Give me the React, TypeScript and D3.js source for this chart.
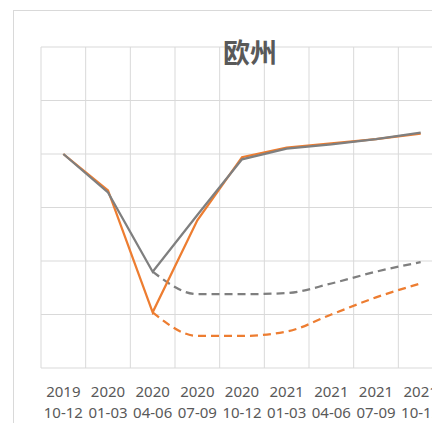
import React, { useRef, useEffect } from 'react';
import * as d3 from 'd3';

// quarters on the x axis (year on the first line, months on the second)
const years = ['2019', '2020', '2020', '2020', '2020', '2021', '2021', '2021', '2021'];
const quarters = ['10-12', '01-03', '04-06', '07-09', '10-12', '01-03', '04-06', '07-09', '10-12'];

// index, 2019 Q4 = 100
const orangeActual = [100, 96.6, 85.2, 93.8, 99.7, 100.6, 101.0, 101.4, 101.9];
const grayActual = [100, 96.4, 89.0, 94.3, 99.5, 100.5, 100.9, 101.4, 102.0];
const orangeForecast = [null, null, 85.2, 83.0, 83.0, 83.4, 85.0, 86.6, 87.9];
const grayForecast = [null, null, 89.0, 86.9, 86.9, 87.0, 87.9, 89.0, 89.9];

const yTicks = [80, 85, 90, 95, 100, 105, 110];

export default function App() {
    const ref = useRef<SVGSVGElement>(null);

    useEffect(() => {
        const svg = d3.select(ref.current);
        svg.selectAll('*').remove();

        const left = 41, right = 443, top = 47, bottom = 368;

        const idx = quarters.map((_, i) => i);
        const x = d3.scalePoint<number>().domain(idx).range([left, right]).padding(0.5);
        const step = x.step();
        const y = d3.scaleLinear().domain([80, 110]).range([bottom, top]);

        // chart frame
        svg.append('rect')
            .attr('x', 13.5).attr('y', 10.5)
            .attr('width', 500).attr('height', 500)
            .attr('fill', 'white')
            .attr('stroke', '#d9d9d9');

        // grid
        const grid = svg.append('g').attr('stroke', '#d9d9d9').attr('stroke-width', 1);
        yTicks.forEach((t) => {
            grid.append('line')
                .attr('x1', left).attr('x2', right)
                .attr('y1', y(t)).attr('y2', y(t));
        });
        for (let i = 0; i <= quarters.length; i++) {
            const gx = left + i * step;
            grid.append('line')
                .attr('x1', gx).attr('x2', gx)
                .attr('y1', top).attr('y2', bottom);
        }

        // title
        svg.append('text')
            .attr('x', 250).attr('y', 63)
            .attr('text-anchor', 'middle')
            .style('font-family', '"Noto Sans CJK SC", sans-serif')
            .style('font-weight', 'bold')
            .style('font-size', '27px')
            .attr('fill', '#595959')
            .text('欧州');

        // x labels
        const labels = svg.append('g')
            .style('font-family', '"Noto Sans", sans-serif')
            .style('font-size', '15px')
            .attr('fill', '#595959')
            .attr('text-anchor', 'middle');
        idx.forEach((i) => {
            labels.append('text').attr('x', x(i)!).attr('y', 397).text(years[i]);
            labels.append('text').attr('x', x(i)!).attr('y', 418).text(quarters[i]);
        });

        const straight = d3.line<number | null>()
            .defined((d) => d !== null)
            .x((_, i) => x(i)!)
            .y((d) => y(d as number));

        const smooth = d3.line<number | null>()
            .defined((d) => d !== null)
            .x((_, i) => x(i)!)
            .y((d) => y(d as number))
            .curve(d3.curveMonotoneX);

        const series: [Array<number | null>, string, boolean][] = [
            [orangeForecast, '#ED7D31', true],
            [grayForecast, '#7F7F7F', true],
            [orangeActual, '#ED7D31', false],
            [grayActual, '#7F7F7F', false],
        ];

        series.forEach(([data, color, dashed]) => {
            svg.append('path')
                .datum(data)
                .attr('fill', 'none')
                .attr('stroke', color)
                .attr('stroke-width', 2.25)
                .attr('stroke-dasharray', dashed ? '8,5' : null)
                .attr('d', dashed ? smooth : straight);
        });
    }, []);

    return (
        <div style={{ position: 'fixed', left: 0, top: 0, width: 432, height: 423, overflow: 'hidden' }}>
            <svg ref={ref} width={432} height={423} style={{ display: 'block' }} />
        </div>
    );
}
